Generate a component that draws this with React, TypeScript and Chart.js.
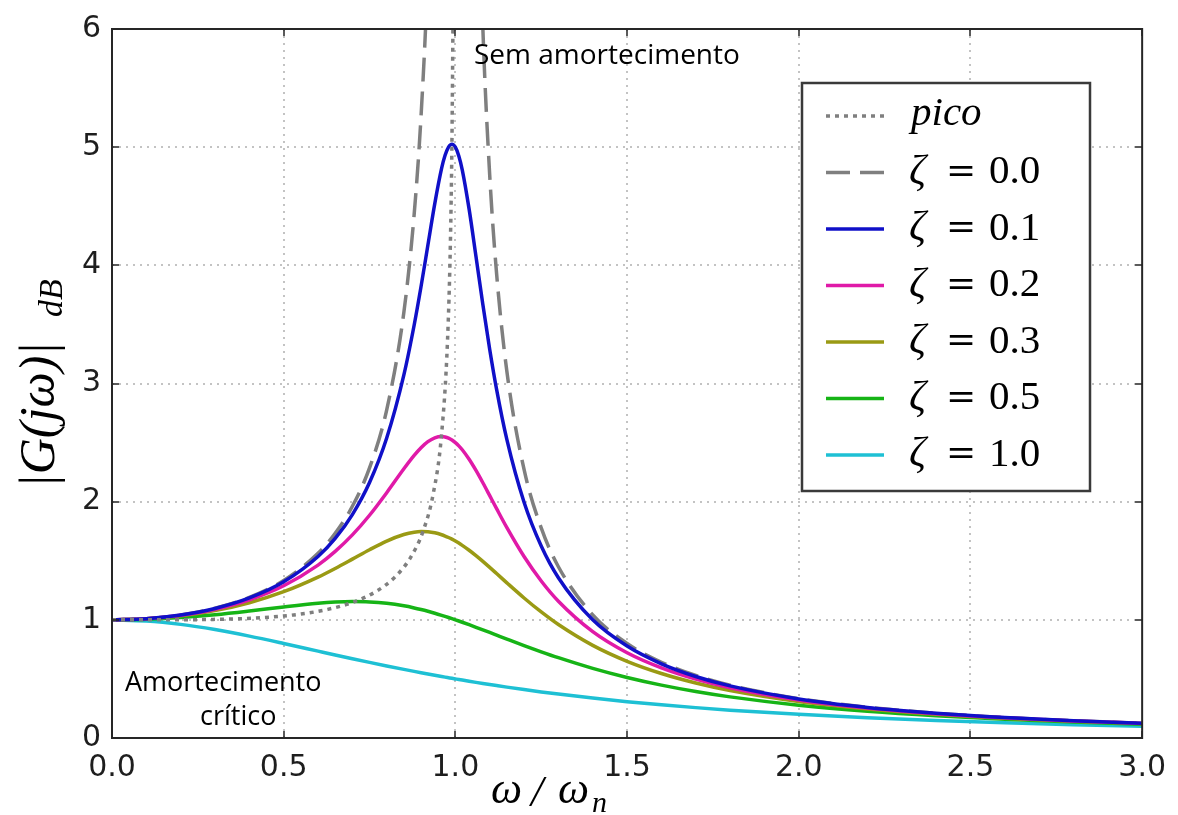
import React, { useEffect, useRef } from "react";
import { Chart, registerables } from "chart.js";

Chart.register(...registerables);

const WIDTH = 1178;
const HEIGHT = 815;
const PLOT = { left: 112, top: 26, right: 1147, bottom: 738 };

// Frequency ratio ω/ωn shared by the damped curves
const omegaRatio = [
  0, 0.1, 0.2, 0.3, 0.4, 0.5, 0.6, 0.65, 0.7, 0.75, 0.8, 0.85, 0.88, 0.9, 0.92,
  0.94, 0.96, 0.97, 0.98, 0.99, 1.0, 1.01, 1.02, 1.04, 1.06, 1.08, 1.1, 1.12,
  1.15, 1.2, 1.25, 1.3, 1.4, 1.5, 1.6, 1.7, 1.8, 2.0, 2.2, 2.4, 2.6, 2.8, 3.0,
];

// |G(jω)| for ζ = 0.1
const gainZeta01 = [
  1.0, 1.0099, 1.0408, 1.0965, 1.1851, 1.3216, 1.5357, 1.6893, 1.8908, 2.1621,
  2.5384, 3.0728, 3.4949, 3.8208, 4.1721, 4.5225, 4.8218, 4.9309, 5.001, 5.0251,
  5.0, 4.9261, 4.8086, 4.4755, 4.075, 3.6676, 3.288, 2.9502, 2.5245, 1.9952,
  1.6245, 1.3562, 1.0, 0.7779, 0.6279, 0.5207, 0.4408, 0.3304, 0.2587, 0.209,
  0.1729, 0.1457, 0.1246,
];

// |G(jω)| for ζ = 0.2
const gainZeta02 = [
  1.0, 1.0093, 1.0381, 1.0895, 1.1695, 1.2883, 1.463, 1.5789, 1.7188, 1.8851,
  2.0761, 2.2786, 2.3918, 2.4566, 2.5078, 2.5406, 2.5515, 2.5479, 2.5381, 2.5221,
  2.5, 2.4722, 2.4391, 2.3589, 2.2642, 2.1601, 2.0511, 1.941, 1.78, 1.5357,
  1.3287, 1.1574, 0.8998, 0.7212, 0.5931, 0.4979, 0.425, 0.3221, 0.2538, 0.2059,
  0.1708, 0.1443, 0.1236,
];

// |G(jω)| for ζ = 0.3
const gainZeta03 = [
  1.0, 1.0083, 1.0336, 1.078, 1.1447, 1.238, 1.3618, 1.435, 1.5136, 1.5933,
  1.6667, 1.7223, 1.7416, 1.7469, 1.7453, 1.7365, 1.7203, 1.7094, 1.6968, 1.6826,
  1.6667, 1.6493, 1.6304, 1.589, 1.5434, 1.4947, 1.4438, 1.3917, 1.3129, 1.1851,
  1.0667, 0.9603, 0.7839, 0.6492, 0.5459, 0.4656, 0.4021, 0.3095, 0.2463, 0.2011,
  0.1676, 0.142, 0.122,
];

// |G(jω)| for ζ = 0.5
const gainZeta05 = [
  1.0, 1.005, 1.0198, 1.0436, 1.0748, 1.1094, 1.1399, 1.1501, 1.1546, 1.1517,
  1.1399, 1.1184, 1.1008, 1.0871, 1.0721, 1.0558, 1.0382, 1.029, 1.0196, 1.0099,
  1.0, 0.9899, 0.9796, 0.9586, 0.937, 0.9151, 0.893, 0.8707, 0.8373, 0.7824,
  0.7295, 0.6795, 0.5891, 0.5121, 0.4475, 0.3934, 0.348, 0.2774, 0.226, 0.1876,
  0.1582, 0.1353, 0.117,
];

// |G(jω)| for ζ = 1.0 (critical damping)
const gainZeta10 = [
  1.0, 0.9901, 0.9615, 0.9174, 0.8621, 0.8, 0.7353, 0.703, 0.6711, 0.64,
  0.6098, 0.5806, 0.5636, 0.5525, 0.5416, 0.5309, 0.5204, 0.5152, 0.5101, 0.505,
  0.5, 0.495, 0.4901, 0.4804, 0.4709, 0.4616, 0.4525, 0.4436, 0.4305, 0.4098,
  0.3902, 0.3717, 0.3378, 0.3077, 0.2809, 0.2571, 0.2358, 0.2, 0.1712, 0.1479,
  0.1289, 0.1131, 0.1,
];

// Undamped response (ζ = 0), broken at the resonance
const undampedRatio = [
  0, 0.1, 0.2, 0.3, 0.4, 0.5, 0.6, 0.65, 0.7, 0.75, 0.8, 0.85, 0.88, 0.9, 0.92,
  0.94, 1.0, 1.06, 1.08, 1.1, 1.12, 1.15, 1.2, 1.25, 1.3, 1.4, 1.5, 1.6, 1.7,
  1.8, 2.0, 2.2, 2.4, 2.6, 2.8, 3.0,
];
const undampedGain = [
  1.0, 1.0101, 1.0417, 1.0989, 1.1905, 1.3333, 1.5625, 1.7316, 1.9608, 2.2857,
  2.7778, 3.6036, 4.4326, 5.2632, 6.5104, 8.5911, null, 8.0906, 6.0096, 4.7619,
  3.9308, 3.1008, 2.2727, 1.7778, 1.4493, 1.0417, 0.8, 0.641, 0.5291, 0.4464,
  0.3333, 0.2604, 0.2101, 0.1736, 0.1462, 0.125,
];

// Resonant peak locus (ω_r, M_r)
const peakRatio = [
  0, 0.1414, 0.2742, 0.3937, 0.5292, 0.6285, 0.7071, 0.7714, 0.8246, 0.8689,
  0.9055, 0.9354, 0.9592, 0.9772, 0.9855, 0.9899, 0.9936,
];
const peakGain = [
  1.0, 1.0002, 1.0028, 1.0122, 1.0417, 1.0885, 1.1547, 1.2442, 1.3639, 1.525,
  1.7471, 2.0656, 2.5516, 3.3715, 4.197, 5.0252, 6.27,
];

const dampingLabels = ["0.0", "0.1", "0.2", "0.3", "0.5", "1.0"];
const peakLabel = "pico";

const GRAY = "#7f7f7f";
const BLUE = "#1010c8";
const MAGENTA = "#e01aa8";
const OLIVE = "#9a9a14";
const GREEN = "#16b416";
const CYAN = "#1ec0d4";

const LINE_W = 3.5;
const DOTTED = [4, 5];
const DASHED = [24, 10];

const pts = (xs: number[], ys: (number | null)[]) =>
  xs.map((x, i) => ({ x, y: ys[i] }));

type LegendItem = { color: string; dash: number[]; label: string; math: boolean };

const legendItems: LegendItem[] = [
  { color: GRAY, dash: DOTTED, label: peakLabel, math: false },
  { color: GRAY, dash: DASHED, label: dampingLabels[0], math: true },
  { color: BLUE, dash: [], label: dampingLabels[1], math: true },
  { color: MAGENTA, dash: [], label: dampingLabels[2], math: true },
  { color: OLIVE, dash: [], label: dampingLabels[3], math: true },
  { color: GREEN, dash: [], label: dampingLabels[4], math: true },
  { color: CYAN, dash: [], label: dampingLabels[5], math: true },
];

const SERIF = '"Liberation Serif", "DejaVu Serif", serif';
const SERIF_EQ = '"DejaVu Serif", serif';
const SANS = '"Open Sans", "Noto Sans", sans-serif';

const decorPlugin = {
  id: "decor",
  beforeDatasetsDraw(chart: any) {
    const { ctx, chartArea: a, scales } = chart;
    ctx.save();
    ctx.strokeStyle = "#b0b0b0";
    ctx.lineWidth = 1.5;
    ctx.setLineDash([2, 5]);
    for (const t of scales.x.ticks) {
      if (t.value <= 0 || t.value >= 3) continue;
      const px = Math.round(scales.x.getPixelForValue(t.value));
      ctx.beginPath();
      ctx.moveTo(px, a.top);
      ctx.lineTo(px, a.bottom);
      ctx.stroke();
    }
    for (const t of scales.y.ticks) {
      if (t.value <= 0 || t.value >= 6) continue;
      const py = Math.round(scales.y.getPixelForValue(t.value));
      ctx.beginPath();
      ctx.moveTo(a.left, py);
      ctx.lineTo(a.right, py);
      ctx.stroke();
    }
    ctx.restore();
  },
  afterDatasetsDraw(chart: any) {
    const { ctx, chartArea: a, scales } = chart;
    ctx.save();

    // frame and inward ticks
    ctx.setLineDash([]);
    ctx.strokeStyle = "#262626";
    ctx.lineWidth = 2;
    ctx.strokeRect(a.left, a.top, a.right - a.left, a.bottom - a.top);
    ctx.lineWidth = 1.5;
    const tl = 7;
    for (const t of scales.x.ticks) {
      const px = Math.round(scales.x.getPixelForValue(t.value));
      ctx.beginPath();
      ctx.moveTo(px, a.bottom);
      ctx.lineTo(px, a.bottom - tl);
      ctx.moveTo(px, a.top);
      ctx.lineTo(px, a.top + tl);
      ctx.stroke();
    }
    for (const t of scales.y.ticks) {
      const py = Math.round(scales.y.getPixelForValue(t.value));
      ctx.beginPath();
      ctx.moveTo(a.left, py);
      ctx.lineTo(a.left + tl, py);
      ctx.moveTo(a.right, py);
      ctx.lineTo(a.right - tl, py);
      ctx.stroke();
    }

    // annotations
    ctx.fillStyle = "#000";
    ctx.textBaseline = "alphabetic";
    ctx.textAlign = "left";
    ctx.font = `28px ${SANS}`;
    ctx.fillText("Sem amortecimento", 474, 64);
    ctx.font = `27px ${SANS}`;
    ctx.fillText("Amortecimento", 125, 691);
    ctx.fillText("crítico", 200, 725);

    // legend
    const box = { x: 802, y: 83, w: 288, h: 408 };
    ctx.fillStyle = "#fff";
    ctx.fillRect(box.x, box.y, box.w, box.h);
    ctx.strokeStyle = "#3a3a3a";
    ctx.lineWidth = 2.5;
    ctx.strokeRect(box.x, box.y, box.w, box.h);
    const rowY0 = 116;
    const rowStep = 56.5;
    legendItems.forEach((item, i) => {
      const y = rowY0 + i * rowStep;
      ctx.strokeStyle = item.color;
      ctx.lineWidth = LINE_W;
      ctx.setLineDash(item.dash);
      ctx.beginPath();
      ctx.moveTo(826, y);
      ctx.lineTo(884, y);
      ctx.stroke();
      ctx.setLineDash([]);
      ctx.fillStyle = "#000";
      ctx.textBaseline = "middle";
      if (item.math) {
        ctx.font = `italic 42px ${SERIF}`;
        ctx.textAlign = "left";
        ctx.fillText("ζ", 909, y);
        ctx.font = `36px ${SERIF_EQ}`;
        ctx.textAlign = "center";
        ctx.fillText("=", 961, y);
        ctx.font = `41px ${SERIF}`;
        ctx.textAlign = "left";
        ctx.fillText(item.label, 989, y);
      } else {
        ctx.font = `italic 41px ${SERIF}`;
        ctx.textAlign = "left";
        ctx.fillText(item.label, 911, y - 2);
      }
    });

    // axis titles
    ctx.fillStyle = "#000";
    ctx.textBaseline = "alphabetic";
    ctx.textAlign = "left";
    ctx.font = `italic 44px ${SERIF}`;
    ctx.fillText("ω", 491, 803);
    ctx.font = `italic 44px ${SERIF}`;
    ctx.fillText("/", 531, 806);
    ctx.font = `italic 44px ${SERIF}`;
    ctx.fillText("ω", 558, 803);
    ctx.font = `italic 30px ${SERIF}`;
    ctx.fillText("n", 592, 812);

    ctx.save();
    ctx.translate(54, 488);
    ctx.rotate(-Math.PI / 2);
    ctx.font = `italic 50px ${SERIF}`;
    ctx.fillText("|G(jω)|", 0, 0);
    ctx.font = `italic 34px ${SERIF}`;
    ctx.fillText("dB", 171, 8);
    ctx.restore();

    ctx.restore();
  },
};

export default function App() {
  const canvasRef = useRef<HTMLCanvasElement | null>(null);

  useEffect(() => {
    const canvas = canvasRef.current;
    if (!canvas) return;
    const common = {
      pointRadius: 0,
      pointHoverRadius: 0,
      borderWidth: LINE_W,
      fill: false,
      spanGaps: false,
      cubicInterpolationMode: "monotone",
    };
    const chart = new Chart(canvas, {
      type: "line",
      data: {
        datasets: [
          { ...common, label: peakLabel, data: pts(peakRatio, peakGain), borderColor: GRAY, borderDash: DOTTED, order: 0 },
          { ...common, label: "ζ = 0.1", data: pts(omegaRatio, gainZeta01), borderColor: BLUE, order: 1 },
          { ...common, label: "ζ = 0.2", data: pts(omegaRatio, gainZeta02), borderColor: MAGENTA, order: 2 },
          { ...common, label: "ζ = 0.3", data: pts(omegaRatio, gainZeta03), borderColor: OLIVE, order: 3 },
          { ...common, label: "ζ = 0.5", data: pts(omegaRatio, gainZeta05), borderColor: GREEN, order: 4 },
          { ...common, label: "ζ = 1.0", data: pts(omegaRatio, gainZeta10), borderColor: CYAN, order: 5 },
          { ...common, label: "ζ = 0.0", data: pts(undampedRatio, undampedGain), borderColor: GRAY, borderDash: DASHED, order: 6 },
        ],
      },
      options: {
        responsive: false,
        animation: false,
        devicePixelRatio: 1,
        layout: {
          padding: { left: 0, bottom: 0, top: PLOT.top, right: WIDTH - PLOT.right },
        },
        plugins: {
          legend: { display: false },
          tooltip: { enabled: false },
        },
        events: [],
        scales: {
          x: {
            type: "linear",
            min: 0,
            max: 3,
            grid: { display: false, drawTicks: false },
            border: { display: false },
            ticks: {
              stepSize: 0.5,
              autoSkip: false,
              maxRotation: 0,
              padding: 12,
              color: "#1e1e1e",
              font: { family: '"DejaVu Sans", sans-serif', size: 30 },
              callback: (v: any) => Number(v).toFixed(1),
            },
            afterFit: (s: any) => {
              s.height = HEIGHT - PLOT.bottom;
            },
          },
          y: {
            type: "linear",
            min: 0,
            max: 6,
            grid: { display: false, drawTicks: false },
            border: { display: false },
            ticks: {
              stepSize: 1,
              autoSkip: false,
              padding: 11,
              color: "#1e1e1e",
              font: { family: '"DejaVu Sans", sans-serif', size: 30 },
              callback: (v: any) => String(Number(v)),
            },
            afterFit: (s: any) => {
              s.width = PLOT.left;
            },
          },
        },
      },
      plugins: [decorPlugin],
    } as any);
    return () => chart.destroy();
  }, []);

  return (
    <div style={{ position: "absolute", left: 0, top: 0, width: WIDTH, height: HEIGHT, background: "#fff" }}>
      <canvas ref={canvasRef} width={WIDTH} height={HEIGHT} style={{ display: "block" }} />
    </div>
  );
}
